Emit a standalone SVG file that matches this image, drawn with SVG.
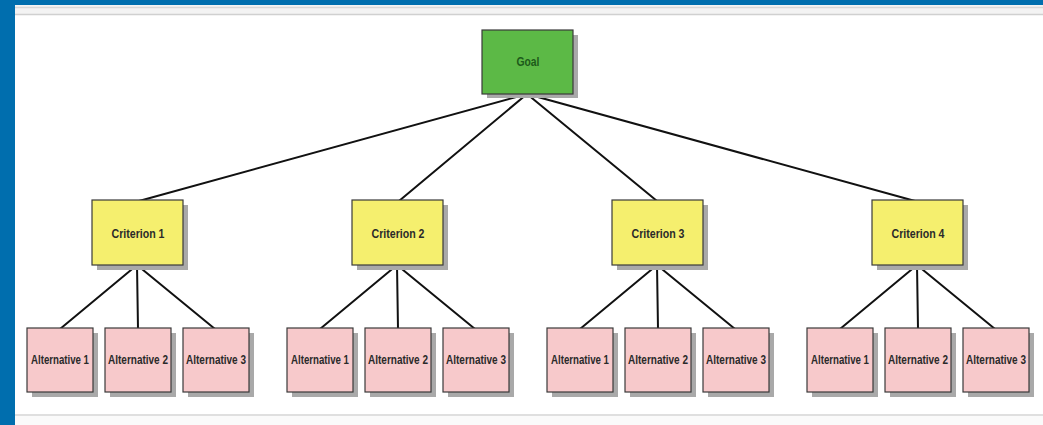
<svg xmlns="http://www.w3.org/2000/svg" width="1043" height="425" viewBox="0 0 1043 425">
<defs>
<style>
.sh{fill:#a9a9a9}
.goal{fill:#5cb946;stroke:#3a3a3a;stroke-width:1.2}
.crit{fill:#f5ef6e;stroke:#3a3a3a;stroke-width:1.2}
.alt{fill:#f7c9cb;stroke:#3a3a3a;stroke-width:1.2}
.t{font-family:"Liberation Sans",Arial,sans-serif;font-size:13px;font-weight:bold;fill:#2a2a2a;text-anchor:middle;dominant-baseline:central}
.ta{font-family:"Liberation Sans",Arial,sans-serif;font-size:12px;font-weight:bold;fill:#2a2a2a;text-anchor:middle;dominant-baseline:central}
.tg{font-family:"Liberation Sans",Arial,sans-serif;font-size:12.5px;font-weight:bold;fill:#1d5a1a;text-anchor:middle;dominant-baseline:central}
.c{stroke:#111;stroke-width:2;fill:none}
</style>
</defs>
<rect x="0" y="0" width="1043" height="425" fill="#ffffff"/>
<rect x="15" y="5" width="1028" height="10" fill="#f3f3f3"/>
<line x1="15" y1="7.5" x2="1043" y2="7.5" stroke="#d8d8d8" stroke-width="1.5"/>
<line x1="15" y1="14.5" x2="1043" y2="14.5" stroke="#d0d0d0" stroke-width="1.5"/>
<line x1="15" y1="415" x2="1043" y2="415" stroke="#d4d4d4" stroke-width="1.5"/>
<rect x="15" y="416" width="1028" height="9" fill="#fafafa"/>
<rect x="0" y="0" width="1043" height="5" fill="#006eae"/>
<rect x="0" y="0" width="15" height="425" fill="#006eae"/>
<g id="connectors">
<path class="c" d="M527 94L139 201M527 94L399 201M527 94L657 201M527 94L915 201"/>
<path class="c" d="M137 265L60 329M137 265L138 329M137 265L215 329"/>
<path class="c" d="M397 265L320 329M397 265L398 329M397 265L475 329"/>
<path class="c" d="M657 265L580 329M657 265L658 329M657 265L735 329"/>
<path class="c" d="M917 265L840 329M917 265L918 329M917 265L995 329"/>
</g>
<g id="goal"><rect class="sh" x="487" y="35" width="91" height="63"/><rect class="goal" x="482" y="30" width="91" height="64"/><text class="tg" x="528" y="62" textLength="23" lengthAdjust="spacingAndGlyphs">Goal</text></g>
<g id="criterion1"><rect class="sh" x="97" y="205" width="91" height="65"/><rect class="crit" x="92" y="200" width="91" height="65"/><text class="t" x="138" y="233" textLength="53" lengthAdjust="spacingAndGlyphs">Criterion 1</text></g>
<g id="criterion2"><rect class="sh" x="357" y="205" width="91" height="65"/><rect class="crit" x="352" y="200" width="91" height="65"/><text class="t" x="398" y="233" textLength="53" lengthAdjust="spacingAndGlyphs">Criterion 2</text></g>
<g id="criterion3"><rect class="sh" x="617" y="205" width="91" height="65"/><rect class="crit" x="612" y="200" width="91" height="65"/><text class="t" x="658" y="233" textLength="53" lengthAdjust="spacingAndGlyphs">Criterion 3</text></g>
<g id="criterion4"><rect class="sh" x="877" y="205" width="91" height="65"/><rect class="crit" x="872" y="200" width="91" height="65"/><text class="t" x="918" y="233" textLength="53" lengthAdjust="spacingAndGlyphs">Criterion 4</text></g>
<g id="c1a1"><rect class="sh" x="32" y="333" width="66" height="64"/><rect class="alt" x="27" y="328" width="66" height="64"/><text class="ta" x="60" y="360" textLength="58" lengthAdjust="spacingAndGlyphs">Alternative 1</text></g>
<g id="c1a2"><rect class="sh" x="110" y="333" width="66" height="64"/><rect class="alt" x="105" y="328" width="66" height="64"/><text class="ta" x="138" y="360" textLength="60" lengthAdjust="spacingAndGlyphs">Alternative 2</text></g>
<g id="c1a3"><rect class="sh" x="188" y="333" width="66" height="64"/><rect class="alt" x="183" y="328" width="66" height="64"/><text class="ta" x="216" y="360" textLength="60" lengthAdjust="spacingAndGlyphs">Alternative 3</text></g>
<g id="c2a1"><rect class="sh" x="292" y="333" width="66" height="64"/><rect class="alt" x="287" y="328" width="66" height="64"/><text class="ta" x="320" y="360" textLength="58" lengthAdjust="spacingAndGlyphs">Alternative 1</text></g>
<g id="c2a2"><rect class="sh" x="370" y="333" width="66" height="64"/><rect class="alt" x="365" y="328" width="66" height="64"/><text class="ta" x="398" y="360" textLength="60" lengthAdjust="spacingAndGlyphs">Alternative 2</text></g>
<g id="c2a3"><rect class="sh" x="448" y="333" width="66" height="64"/><rect class="alt" x="443" y="328" width="66" height="64"/><text class="ta" x="476" y="360" textLength="60" lengthAdjust="spacingAndGlyphs">Alternative 3</text></g>
<g id="c3a1"><rect class="sh" x="552" y="333" width="66" height="64"/><rect class="alt" x="547" y="328" width="66" height="64"/><text class="ta" x="580" y="360" textLength="58" lengthAdjust="spacingAndGlyphs">Alternative 1</text></g>
<g id="c3a2"><rect class="sh" x="630" y="333" width="66" height="64"/><rect class="alt" x="625" y="328" width="66" height="64"/><text class="ta" x="658" y="360" textLength="60" lengthAdjust="spacingAndGlyphs">Alternative 2</text></g>
<g id="c3a3"><rect class="sh" x="708" y="333" width="66" height="64"/><rect class="alt" x="703" y="328" width="66" height="64"/><text class="ta" x="736" y="360" textLength="60" lengthAdjust="spacingAndGlyphs">Alternative 3</text></g>
<g id="c4a1"><rect class="sh" x="812" y="333" width="66" height="64"/><rect class="alt" x="807" y="328" width="66" height="64"/><text class="ta" x="840" y="360" textLength="58" lengthAdjust="spacingAndGlyphs">Alternative 1</text></g>
<g id="c4a2"><rect class="sh" x="890" y="333" width="66" height="64"/><rect class="alt" x="885" y="328" width="66" height="64"/><text class="ta" x="918" y="360" textLength="60" lengthAdjust="spacingAndGlyphs">Alternative 2</text></g>
<g id="c4a3"><rect class="sh" x="968" y="333" width="66" height="64"/><rect class="alt" x="963" y="328" width="66" height="64"/><text class="ta" x="996" y="360" textLength="60" lengthAdjust="spacingAndGlyphs">Alternative 3</text></g>
</svg>
